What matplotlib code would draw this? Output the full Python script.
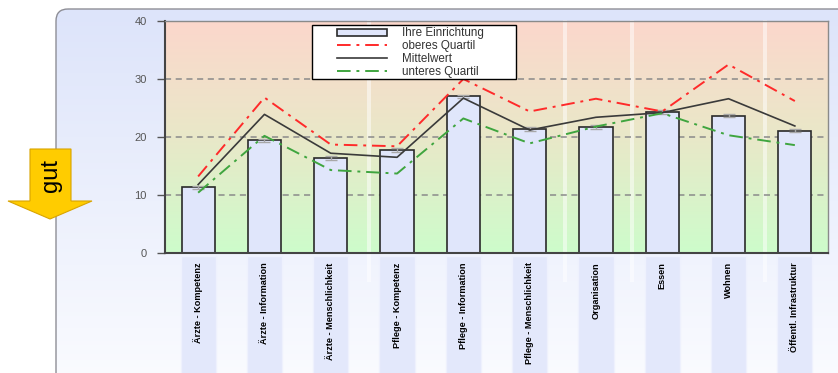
import numpy as np
from matplotlib import pyplot as plt
from matplotlib.patches import Rectangle, FancyBboxPatch, Polygon

plt.rcParams['font.family'] = ['Liberation Sans', 'DejaVu Sans']

## Data
categories = ['Ärzte - Kompetenz', 'Ärzte - Information', 'Ärzte - Menschlichkeit',
              'Pflege - Kompetenz', 'Pflege - Information', 'Pflege - Menschlichkeit',
              'Organisation', 'Essen', 'Wohnen', 'Öffentl. Infrastruktur']
einrichtung = [11.3, 19.4, 16.4, 17.8, 27.0, 21.4, 21.7, 24.3, 23.7, 21.1]
einrichtung_err = [0.3, 0.3, 0.3, 0.3, 0.3, 0.3, 0.3, 0.3, 0.3, 0.3]
oberes_quartil = [13.2, 26.8, 18.7, 18.4, 30.0, 24.4, 26.6, 24.4, 32.5, 26.2]
mittelwert = [11.8, 23.9, 17.2, 16.5, 26.7, 21.2, 23.4, 24.2, 26.6, 21.9]
unteres_quartil = [10.4, 20.2, 14.3, 13.7, 23.2, 18.9, 21.8, 24.1, 20.3, 18.6]

W, H = 838, 373
fig = plt.figure(figsize=(W / 100, H / 100), dpi=100)
fig.patch.set_facecolor('white')

# background panel in pixel coordinates
bg = fig.add_axes([0, 0, 1, 1], zorder=0)
bg.set_xlim(0, W)
bg.set_ylim(H, 0)
bg.axis('off')
panel = FancyBboxPatch((56, 9), W + 20, H + 20, boxstyle='round,pad=0,rounding_size=12',
                       facecolor='none', edgecolor='#8e8e96', lw=1.0, zorder=2)
bg.add_patch(panel)
grad = np.linspace(0, 1, 256)[:, None]
panel_cmap = plt.matplotlib.colors.LinearSegmentedColormap.from_list('panel', ['#dde4fa', '#fbfcff'])
im = bg.imshow(grad, cmap=panel_cmap, extent=(56, W + 20, H + 20, 9), aspect='auto', zorder=1)
im.set_clip_path(panel)

# "gut" arrow
arrow = Polygon([(30, 149), (71, 149), (71, 201), (92, 201), (50, 219), (8, 201), (30, 201)],
                closed=True, facecolor='#ffcc00', edgecolor='#d9a400', lw=0.8, zorder=3)
bg.add_patch(arrow)
bg.text(51, 176, 'gut', rotation=90, ha='center', va='center', fontsize=17,
        color='black', zorder=4)

# main chart
ax = fig.add_axes([165 / W, 1 - 253 / H, (828 - 165) / W, (253 - 21) / H], zorder=1)
ax.set_facecolor('none')
x = np.arange(len(categories))
ax.set_xlim(-0.5, len(categories) - 0.5)
ax.set_ylim(0, 40)

zone_cmap = plt.matplotlib.colors.LinearSegmentedColormap.from_list(
    'zone', ['#cdfccb', '#e9e8c8', '#fcd7cc'])
ax.imshow(grad, cmap=zone_cmap, origin='lower', extent=(-0.5, len(categories) - 0.5, 0, 40),
          aspect='auto', zorder=0)

for yv in [10, 20, 30]:
    ax.axhline(yv, color='#8a8a8a', lw=1.1, dashes=(4, 3), zorder=1)

# light vertical streaks
for sx in [369, 565, 632, 765]:
    ax.add_patch(Rectangle((sx - 2, 20), 4, 262, transform=bg.transData, facecolor='white',
                           edgecolor='none', alpha=0.5, clip_on=False, zorder=0.6))

bars = ax.bar(x, einrichtung, width=0.5, facecolor='#e0e6fb', edgecolor='#2a2a2a', lw=1.2,
              zorder=2, label='Ihre Einrichtung')
ax.errorbar(x, einrichtung, yerr=einrichtung_err, fmt='none', ecolor='#a8a8a8',
            elinewidth=1, capsize=4, zorder=2.5)
l_ob, = ax.plot(x, oberes_quartil, color='#ff2a2a', lw=1.4, dashes=(7, 3, 1.5, 3), zorder=3,
                label='oberes Quartil')
l_mw, = ax.plot(x, mittelwert, color='#3a3a3a', lw=1.2, zorder=3, label='Mittelwert')
l_un, = ax.plot(x, unteres_quartil, color='#3fa53f', lw=1.4, dashes=(7, 3, 1.5, 3), zorder=3,
                label='unteres Quartil')

# category labels in boxes below the axis
trans = ax.get_xaxis_transform()
for i, name in enumerate(categories):
    ax.add_patch(Rectangle((i - 0.265, -0.55), 0.53, 0.537, transform=trans,
                           facecolor='#e3e8fb', edgecolor='#eef1fd', lw=1, clip_on=False, zorder=1))
    ax.text(i, -0.04, name, rotation=90, ha='center', va='top', transform=trans,
            fontsize=6.6, fontweight='bold', color='black', clip_on=False)

ax.set_xticks([])
ax.set_yticks([0, 10, 20, 30, 40])
ax.tick_params(axis='y', length=6, width=1, color='#555555', labelcolor='#555555',
               labelsize=8, pad=7)
for side in ['left', 'bottom']:
    ax.spines[side].set_color('#444444')
    ax.spines[side].set_linewidth(1.5)
for side in ['top', 'right']:
    ax.spines[side].set_color('#8a8a8a')
    ax.spines[side].set_linewidth(1.0)

# legend box with content placed inside
ax.add_patch(Rectangle((0.222, 0.75), 0.307, 0.233, transform=ax.transAxes,
                       facecolor='white', edgecolor='black', lw=1, zorder=4))
leg = ax.legend([bars, l_ob, l_mw, l_un],
                ['Ihre Einrichtung', 'oberes Quartil', 'Mittelwert', 'unteres Quartil'],
                loc='upper left', bbox_to_anchor=(0.259, 0.972), frameon=False,
                borderpad=0, borderaxespad=0, fontsize=8.4, handlelength=4.3,
                handletextpad=1.3, labelspacing=0.06, handleheight=0.55)
leg.set_zorder(5)
for t in leg.get_texts():
    t.set_color('#333333')

fig.savefig('out.png', dpi=100)
